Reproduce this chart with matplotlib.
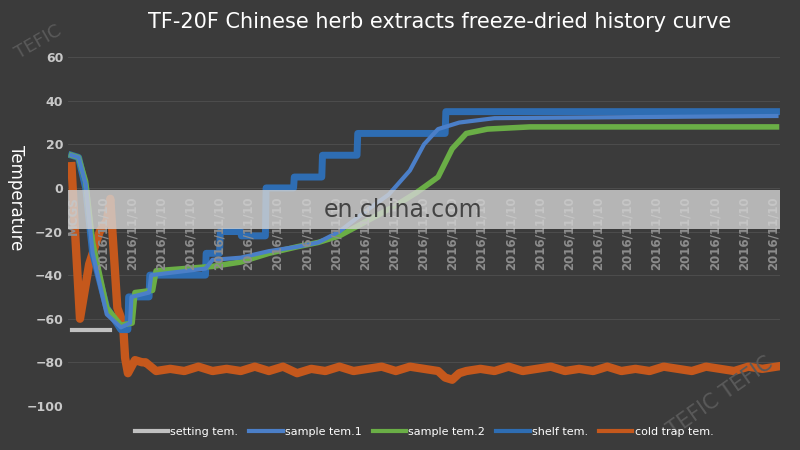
import matplotlib
matplotlib.use("Agg")
import matplotlib.pyplot as plt
import numpy as np

# time in % of run
shelf_t = [0, 1, 2, 3, 5, 7, 8, 8.1, 11, 11.1, 19, 19.1, 21, 21.1, 24, 24.1, 27.5, 27.6, 31.5, 31.6, 35.5, 35.6, 40.5, 40.6, 53, 53.1, 100]
shelf_v = [15, 14, 0, -30, -55, -65, -65, -50, -50, -40, -40, -30, -30, -20, -20, -22, -22, 0, 0, 5, 5, 15, 15, 25, 25, 35, 35]
s1_t = [0, 1, 2, 3, 5, 7, 8.3, 8.5, 11, 11.3, 19, 20, 24, 28, 32, 35, 38, 42, 45, 48, 50, 52, 55, 60, 100]
s1_v = [15, 14, 2, -30, -58, -64, -62, -50, -48, -40, -37, -33, -32, -29, -27, -25, -20, -10, -3, 8, 20, 27, 30, 32, 33]
s2_t = [0, 1, 2, 3, 5, 7, 8.6, 9, 11.5, 12, 20, 24, 28, 32, 35, 38, 42, 46, 49, 52, 54, 56, 59, 65, 100]
s2_v = [15, 14, 3, -25, -55, -63, -62, -48, -47, -38, -36, -34, -30, -27, -25, -22, -15, -8, -2, 5, 18, 25, 27, 28, 28]
set_t = [0, 5.5]
set_v = [-65, -65]
cold_t = [0, 0.5, 1.2, 2.5, 4, 5, 5.5, 6.5, 7.3, 7.6, 8, 9, 10, 10.5, 12, 14, 16, 18, 20, 22, 24, 26, 28, 30, 32, 34, 36, 38, 40, 42, 44, 46, 48, 50, 52, 53, 54, 55, 56, 58, 60, 62, 64, 66, 68, 70, 72, 74, 76, 78, 80, 82, 84, 86, 88, 90, 92, 94, 96, 98, 100]
cold_v = [10, -20, -60, -35, -20, -15, -5, -55, -62, -78, -85, -79, -80, -80, -84, -83, -84, -82, -84, -83, -84, -82, -84, -82, -85, -83, -84, -82, -84, -83, -82, -84, -82, -83, -84, -87, -88, -85, -84, -83, -84, -82, -84, -83, -82, -84, -83, -84, -82, -84, -83, -84, -82, -83, -84, -82, -83, -84, -82, -83, -82]
tick_labels = ["MCGS"] + ["2016/11/10"] * 24

bg = "#3b3b3b"
fig = plt.figure(figsize=(8, 4.5), dpi=100, facecolor=bg)
ax = fig.add_axes([0.085, 0.098, 0.89, 0.775], facecolor=bg)
ax.set_xlim(-0.5, 100.5)
ax.set_ylim(-100, 60)
for s in ax.spines.values():
    s.set_visible(False)
ax.set_yticks(range(-100, 61, 20))
ax.tick_params(axis="y", colors="#c8c8c8", length=0, labelsize=9)
for lab in ax.get_yticklabels():
    lab.set_fontweight("bold")
ax.set_xticks([])
ax.grid(axis="y", color="#4c4c4c", lw=0.8)

ax.plot(cold_t, cold_v, color="#c5581c", lw=6, solid_joinstyle="round", zorder=2)
ax.plot(set_t, set_v, color="#c0c0c0", lw=3, zorder=3)
ax.plot(shelf_t, shelf_v, color="#2e6db3", lw=5, zorder=3)
ax.plot(s2_t, s2_v, color="#6aae46", lw=4, zorder=4)
ax.plot(s1_t, s1_v, color="#4b7fc8", lw=3, zorder=5)

xs = np.linspace(0.3, 99.5, len(tick_labels))
for x, t in zip(xs, tick_labels):
    ax.text(x, -4, t, rotation=90, ha="center", va="top", fontsize=8.5,
            fontweight="bold", color="#8c8c8c", zorder=6)

# watermark band
ax.axhspan(-1, -19, color="#d4d4d4", alpha=0.8, zorder=7, lw=0)
ax.text(47, -10, "en.china.com", ha="center", va="center", fontsize=17, color="#444444", zorder=8)

fig.text(0.55, 0.95, "TF-20F Chinese herb extracts freeze-dried history curve",
         ha="center", va="center", fontsize=15, color="white")
fig.text(0.02, 0.56, "Temperature", rotation=-90, ha="center", va="center", fontsize=12, color="white")
fig.text(0.015, 0.87, "TEFIC", rotation=30, fontsize=13, color="#5a5a5a")
fig.text(0.83, 0.03, "TEFIC TEFIC", rotation=35, fontsize=15, color="#5a5a5a")

handles = [plt.Line2D([], [], color=c, lw=3) for c in ["#c0c0c0", "#4b7fc8", "#6aae46", "#2e6db3", "#c5581c"]]
fig.legend(handles, ["setting tem.", "sample tem.1", "sample tem.2", "shelf tem.", "cold trap tem."],
           loc="center", bbox_to_anchor=(0.53, 0.04), ncol=5, frameon=False, fontsize=8,
           labelcolor="white", handlelength=3, columnspacing=1.0, handletextpad=0.2)
fig.savefig("out.png", dpi=100, facecolor=bg)
